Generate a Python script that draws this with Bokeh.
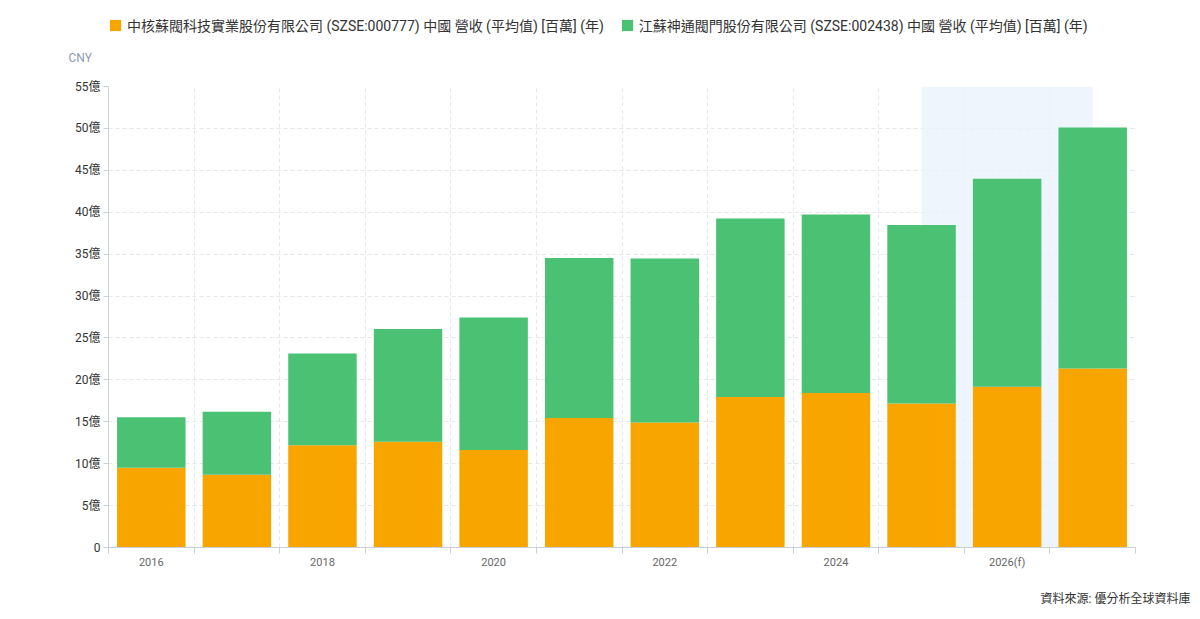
from bokeh.plotting import figure
from bokeh.layouts import column
from bokeh.models import (ColumnDataSource, FixedTicker, Legend, LegendItem,
                          BoxAnnotation, Title, Range1d)
from bokeh.embed import file_html
from bokeh.resources import INLINE

years = ["2016", "2017", "2018", "2019", "2020", "2021", "2022", "2023",
         "2024", "2025", "2026(f)", "2027(f)"]
zhonghe = [9.50, 8.67, 12.21, 12.61, 11.63, 15.45, 14.91, 17.96, 18.43, 17.18, 19.17, 21.36]
shentong = [6.05, 7.52, 10.94, 13.46, 15.81, 19.09, 19.57, 21.29, 21.30, 21.31, 24.81, 28.75]
series_names = [
    "中核蘇閥科技實業股份有限公司 (SZSE:000777) 中國 營收 (平均值) [百萬] (年)",
    "江蘇神通閥門股份有限公司 (SZSE:002438) 中國 營收 (平均值) [百萬] (年)",
]
y_ticks = [0, 5, 10, 15, 20, 25, 30, 35, 40, 45, 50, 55]
shade_from, shade_to = "2025", "2027(f)"

colors = ["#f8a500", "#4bc173"]
FONT = "Roboto, Noto Sans CJK TC, sans-serif"

xs = [i + 0.5 for i in range(len(years))]
src = ColumnDataSource(dict(x=xs, zhonghe=zhonghe, shentong=shentong))

# ---- legend strip ----
lp = figure(width=1200, height=43, output_backend="svg", toolbar_location=None,
            x_range=Range1d(0, 1), y_range=Range1d(0, 1),
            min_border=0)
lp.axis.visible = False
lp.grid.visible = False
lp.outline_line_color = None
# legend swatches: one hidden box each, outside the visible range
dummy = [lp.quad(left=[-5], right=[-4], bottom=[-5], top=[-4], fill_color=c, line_color=None)
         for c in colors]
legend = Legend(items=[LegendItem(label=series_names[i], renderers=[dummy[i]]) for i in range(2)],
                orientation="horizontal", location=(0, 8),
                label_text_font=FONT, label_text_font_size="14px",
                label_text_color="#333333", glyph_width=14, glyph_height=14,
                label_standoff=5, spacing=16, padding=0, margin=0,
                border_line_color=None, background_fill_alpha=0)
lp.add_layout(legend)

# ---- main chart ----
p = figure(frame_width=1027, frame_height=461, output_backend="svg", toolbar_location=None,
           x_range=Range1d(0, len(years)), y_range=Range1d(0, y_ticks[-1]),
           min_border_left=108, min_border_right=65, min_border_top=37,
           min_border_bottom=71)
p.outline_line_color = None

shade = BoxAnnotation(left=years.index(shade_from) + 0.5, right=years.index(shade_to) + 0.5,
                      fill_color="#eaf2fc", fill_alpha=0.8, line_color=None, level="underlay")
p.add_layout(shade)

rs = p.vbar_stack(["zhonghe", "shentong"], x="x", width=0.8, color=colors,
                  line_color=None, source=src)

# x axis
p.xaxis.ticker = FixedTicker(ticks=xs[::2], minor_ticks=list(range(len(years) + 1)))
p.xaxis.major_label_overrides = {xs[i]: years[i] for i in range(0, len(years), 2)}
p.xaxis.major_tick_out = 0
p.xaxis.major_tick_in = 0
p.xaxis.minor_tick_out = 6
p.xaxis.minor_tick_in = 0
p.xaxis.minor_tick_line_color = "#c9d0dc"
p.xaxis.axis_line_color = "#c9d0dc"
p.xaxis.major_label_text_font = FONT
p.xaxis.major_label_text_font_size = "11px"
p.xaxis.major_label_text_color = "#666666"
p.xaxis.major_label_standoff = 2

# y axis
p.yaxis.ticker = FixedTicker(ticks=y_ticks)
p.yaxis.major_label_overrides = {t: (f"{t}億" if t else "0") for t in y_ticks}
p.yaxis.major_tick_out = 5
p.yaxis.major_tick_in = 0
p.yaxis.minor_tick_line_color = None
p.yaxis.major_tick_line_color = "#c9d0dc"
p.yaxis.axis_line_color = "#c9d0dc"
p.yaxis.major_label_text_font = FONT
p.yaxis.major_label_text_font_size = "12px"
p.yaxis.major_label_text_color = "#333333"
p.yaxis.major_label_standoff = 3

# grids
p.xgrid.ticker = FixedTicker(ticks=list(range(len(years) + 1)))
for g in (p.xgrid, p.ygrid):
    g.grid_line_color = "#e3e6ea"
    g.grid_line_dash = "4 3"
    g.grid_line_width = 1

# spacer + CNY unit label
p.add_layout(Title(text=" ", text_font_size="4px"), "above")
p.add_layout(Title(text="CNY", align="left", offset=-40, text_font=FONT,
                   text_font_size="12px", text_color="#8c9ab0",
                   text_font_style="normal"), "above")

# spacer + source note
p.add_layout(Title(text=" ", text_font_size="1px"), "below")
p.add_layout(Title(text="資料來源: 優分析全球資料庫", align="right", offset=-55,
                   text_font=FONT, text_font_size="12px", text_color="#333333",
                   text_font_style="normal"), "below")

page = column(lp, p, spacing=0)
open("out.html", "w").write(file_html(page, INLINE))
